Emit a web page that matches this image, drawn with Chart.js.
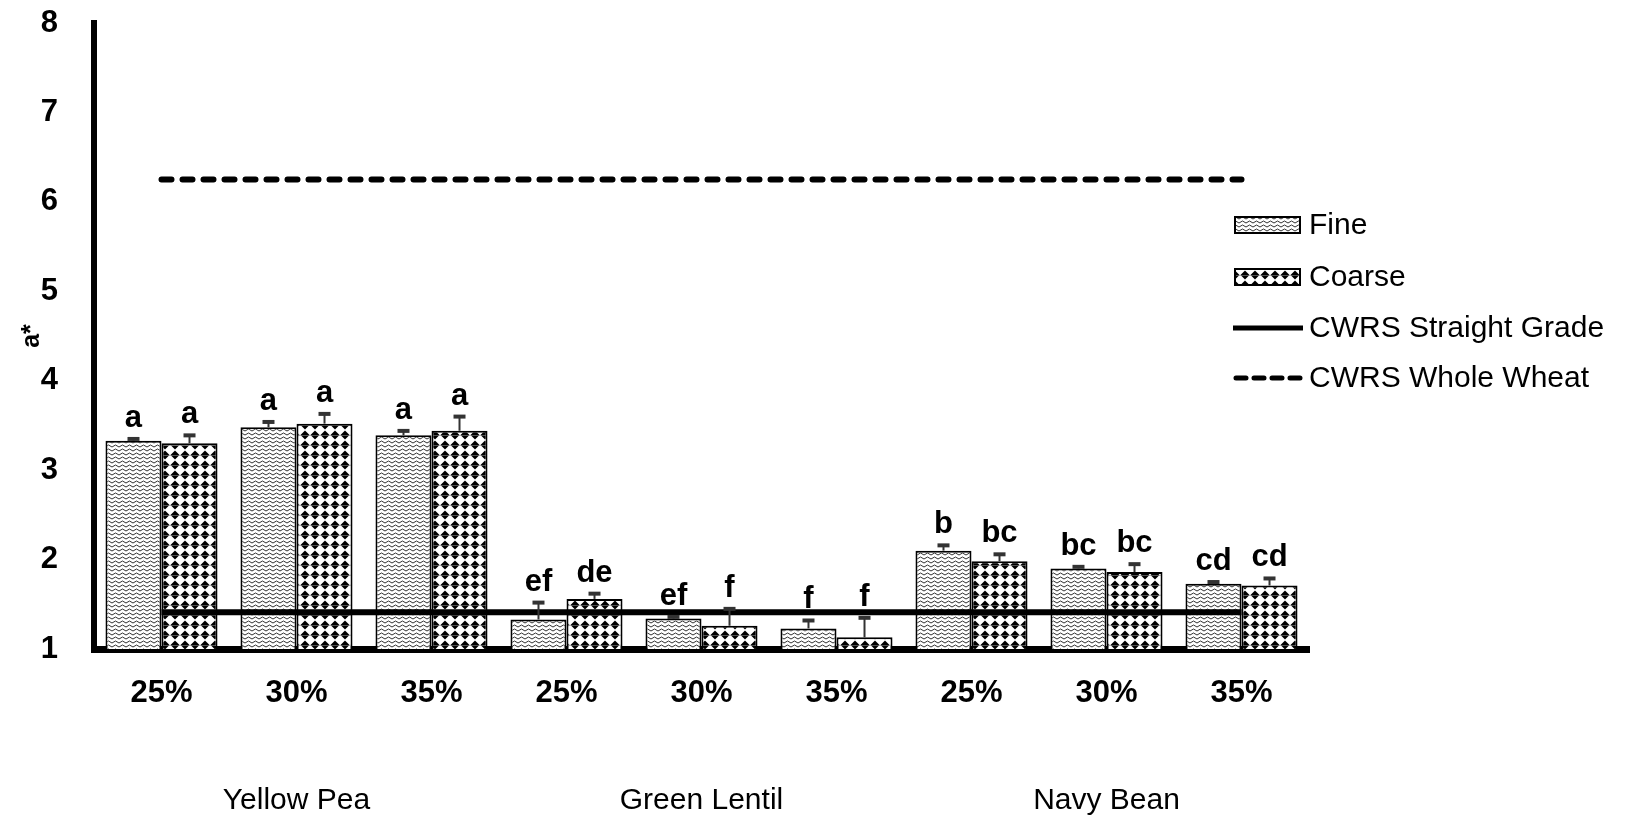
<!DOCTYPE html>
<html>
<head>
<meta charset="utf-8">
<script src="https://cdn.jsdelivr.net/npm/chart.js@4.4.1/dist/chart.umd.min.js"></script>
<style>
    body { margin: 0; background: #fff; }
    #wrap { width: 1636px; height: 820px; }
</style>
</head>
<body>
<div id="wrap"><canvas id="chart" width="1636" height="820"></canvas></div>
<script>
// Data
const levels = ["25%", "30%", "35%", "25%", "30%", "35%", "25%", "30%", "35%"];
const pulses = ["Yellow Pea", "Green Lentil", "Navy Bean"];
const fine = [3.33, 3.48, 3.39, 1.33, 1.34, 1.23, 2.10, 1.90, 1.73];
const fineErr = [0.03, 0.07, 0.06, 0.20, 0.03, 0.10, 0.07, 0.03, 0.03];
const coarse = [3.30, 3.52, 3.44, 1.56, 1.26, 1.13, 1.98, 1.86, 1.71];
const coarseErr = [0.10, 0.12, 0.17, 0.07, 0.20, 0.23, 0.09, 0.10, 0.09];
const fineLetters = ["a", "a", "a", "ef", "ef", "f", "b", "bc", "cd"];
const coarseLetters = ["a", "a", "a", "de", "f", "f", "bc", "bc", "cd"];
const straightGrade = 1.41;
const wholeWheat = 6.25;
const yMin = 1, yMax = 8;

const FONT = '"Liberation Sans", Arial, sans-serif';

// Wavy fill for Fine
function wavePattern() {
    const c = document.createElement("canvas");
    c.width = 7; c.height = 4;
    const g = c.getContext("2d");
    g.fillStyle = "#fff";
    g.fillRect(0, 0, 7, 4);
    g.strokeStyle = "#333";
    g.lineWidth = 1;
    g.beginPath();
    g.moveTo(0, 3); g.lineTo(3.5, 1); g.lineTo(7, 3);
    g.stroke();
    return g.createPattern(c, "repeat");
}

// Diamond fill for Coarse
function diamondPattern() {
    const c = document.createElement("canvas");
    c.width = 10; c.height = 10;
    const g = c.getContext("2d");
    g.fillStyle = "#fff";
    g.fillRect(0, 0, 10, 10);
    g.fillStyle = "#000";
    g.beginPath();
    g.moveTo(5, 0.5); g.lineTo(9.5, 5); g.lineTo(5, 9.5); g.lineTo(0.5, 5);
    g.closePath();
    g.fill();
    g.fillStyle = "#888";
    g.fillRect(0, 5, 10, 0.6);
    return g.createPattern(c, "repeat");
}

const finePat = wavePattern();
const coarsePat = diamondPattern();

// Error bars, letters, group names and legend
const extras = {
    id: "extras",
    afterDatasetsDraw(chart) {
        const ctx = chart.ctx;
        const y = chart.scales.y;
        const sets = [[fine, fineErr, fineLetters], [coarse, coarseErr, coarseLetters]];
        ctx.save();
        sets.forEach((s, ds) => {
            const meta = chart.getDatasetMeta(ds);
            meta.data.forEach((bar, i) => {
                const top = y.getPixelForValue(s[0][i]);
                const errTop = y.getPixelForValue(s[0][i] + s[1][i]);
                ctx.strokeStyle = "#333";
                ctx.lineWidth = 2;
                ctx.beginPath();
                ctx.moveTo(bar.x, top);
                ctx.lineTo(bar.x, errTop);
                ctx.stroke();
                ctx.lineWidth = 4;
                ctx.beginPath();
                ctx.moveTo(bar.x - 6, errTop + 1);
                ctx.lineTo(bar.x + 6, errTop + 1);
                ctx.stroke();
                ctx.fillStyle = "#000";
                ctx.font = "bold 31px " + FONT;
                ctx.textAlign = "center";
                ctx.textBaseline = "alphabetic";
                ctx.fillText(s[2][i], bar.x, errTop - 11);
            });
        });
        ctx.restore();
    },
    afterDraw(chart) {
        const ctx = chart.ctx;
        const x = chart.scales.x;
        ctx.save();
        ctx.fillStyle = "#000";
        ctx.font = "30px " + FONT;
        ctx.textAlign = "center";
        ctx.textBaseline = "middle";
        pulses.forEach((p, g) => {
            ctx.fillText(p, x.getPixelForValue(g * 3 + 1), 801);
        });

        // legend
        const lx = 1235, tx = 1309;
        const rows = [225, 277, 328, 378];
        ctx.textAlign = "left";
        [finePat, coarsePat].forEach((pat, k) => {
            ctx.fillStyle = pat;
            ctx.fillRect(lx, rows[k] - 8, 65, 16);
            ctx.strokeStyle = "#000";
            ctx.lineWidth = 2;
            ctx.strokeRect(lx, rows[k] - 8, 65, 16);
        });
        ctx.strokeStyle = "#000";
        ctx.lineWidth = 5;
        ctx.beginPath();
        ctx.moveTo(lx - 2, rows[2]);
        ctx.lineTo(lx + 68, rows[2]);
        ctx.stroke();
        ctx.setLineDash([10, 8]);
        ctx.lineCap = "round";
        ctx.beginPath();
        ctx.moveTo(lx + 1, rows[3]);
        ctx.lineTo(lx + 68, rows[3]);
        ctx.stroke();
        ctx.setLineDash([]);
        ctx.fillStyle = "#000";
        ["Fine", "Coarse", "CWRS Straight Grade", "CWRS Whole Wheat"].forEach((t, k) => {
            ctx.fillText(t, tx, rows[k] + 1);
        });
        ctx.restore();
    }
};

new Chart(document.getElementById("chart"), {
    type: "bar",
    data: {
        labels: levels,
        datasets: [
            {
                label: "Fine",
                data: fine,
                backgroundColor: finePat,
                borderColor: "#000",
                borderWidth: 2,
                order: 2
            },
            {
                label: "Coarse",
                data: coarse,
                backgroundColor: coarsePat,
                borderColor: "#000",
                borderWidth: 2,
                order: 2
            },
            {
                type: "line",
                label: "CWRS Straight Grade",
                data: levels.map(() => straightGrade),
                borderColor: "#000",
                borderWidth: 6,
                pointRadius: 0,
                order: 1
            },
            {
                type: "line",
                label: "CWRS Whole Wheat",
                data: levels.map(() => wholeWheat),
                borderColor: "#000",
                borderWidth: 6,
                borderDash: [10, 11],
                borderCapStyle: "round",
                pointRadius: 0,
                order: 1
            }
        ]
    },
    options: {
        responsive: false,
        animation: false,
        layout: { padding: { top: 23, right: 327, left: 0, bottom: 0 } },
        datasets: {
            bar: { categoryPercentage: 0.83, barPercentage: 1.0 }
        },
        plugins: {
            legend: { display: false },
            tooltip: { enabled: false }
        },
        scales: {
            x: {
                grid: { display: false },
                border: { display: true, color: "#000", width: 7 },
                ticks: {
                    color: "#000",
                    font: { family: FONT, size: 31, weight: "bold" },
                    padding: 18,
                    maxRotation: 0
                },
                afterFit(scale) { scale.height = 171; }
            },
            y: {
                min: yMin,
                max: yMax,
                grid: { display: false },
                border: { display: true, color: "#000", width: 6 },
                ticks: {
                    stepSize: 1,
                    color: "#000",
                    font: { family: FONT, size: 31, weight: "bold" },
                    padding: 28
                },
                title: {
                    display: true,
                    text: "a*",
                    color: "#000",
                    font: { family: FONT, size: 25, weight: "bold" },
                    padding: { top: 17, bottom: 0 }
                },
                afterFit(scale) {
                    scale.width = 94;
                    scale.paddingTop = 0;
                    scale.paddingBottom = 0;
                }
            }
        }
    },
    plugins: [extras]
});
</script>
</body>
</html>
